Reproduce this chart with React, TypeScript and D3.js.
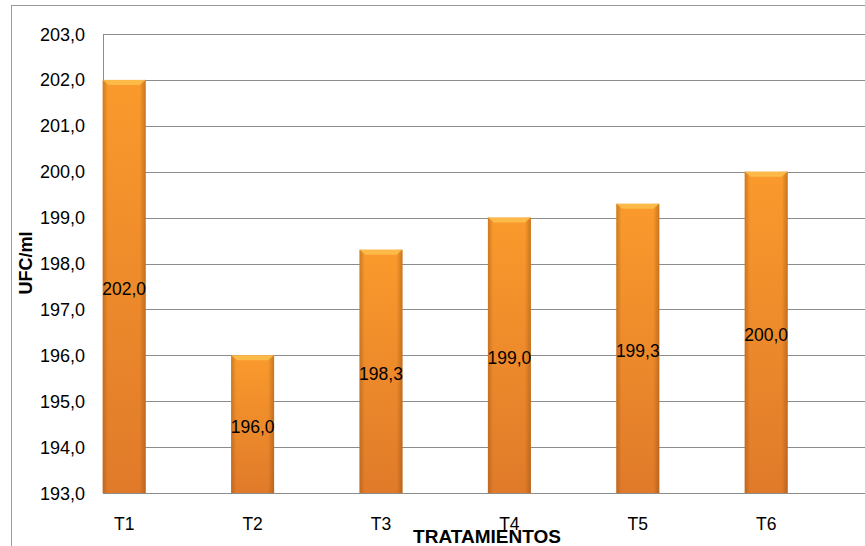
import React, { useRef, useEffect } from "react";
import * as d3 from "d3";

// Data
const categories = ["T1", "T2", "T3", "T4", "T5", "T6"];
const values = [202.0, 196.0, 198.3, 199.0, 199.3, 200.0];
const yTicks = [193, 194, 195, 196, 197, 198, 199, 200, 201, 202, 203];

const App = () => {
  const chartRef = useRef<SVGSVGElement | null>(null);

  useEffect(() => {
    const width = 865;
    const height = 546;
    const plot = { left: 103, top: 34, bottom: 493 };
    const font = "Liberation Sans, Arial, sans-serif";

    const svg = d3.select(chartRef.current).attr("width", width).attr("height", height);
    svg.selectAll("*").remove();

    const locale = d3.formatLocale({ decimal: ",", thousands: ".", grouping: [3], currency: ["", ""] });
    const fmt = locale.format(".1f");

    const xScale = d3.scaleBand().domain(categories).range([60, 830.4]).padding(0);
    const barW = 43;
    const barX = (i: number) => (xScale(categories[i]) as number) + xScale.bandwidth() / 2 - barW / 2;

    const yScale = d3.scaleLinear().domain([193, 203]).range([plot.bottom, plot.top]);

    const defs = svg.append("defs");
    const vg = defs.append("linearGradient").attr("id", "barV").attr("x1", 0).attr("y1", 0).attr("x2", 0).attr("y2", 1);
    vg.append("stop").attr("offset", "0%").attr("stop-color", "#fa9a2c");
    vg.append("stop").attr("offset", "100%").attr("stop-color", "#e07a2a");
    const hg = defs.append("linearGradient").attr("id", "barH").attr("x1", 0).attr("y1", 0).attr("x2", 1).attr("y2", 0);
    hg.append("stop").attr("offset", "0%").attr("stop-color", "#8a4a10").attr("stop-opacity", 0.4);
    hg.append("stop").attr("offset", "12%").attr("stop-color", "#8a4a10").attr("stop-opacity", 0);
    hg.append("stop").attr("offset", "86%").attr("stop-color", "#8a4a10").attr("stop-opacity", 0);
    hg.append("stop").attr("offset", "100%").attr("stop-color", "#8a4a10").attr("stop-opacity", 0.45);

    // outer chart border
    svg.append("rect").attr("x", 11.5).attr("y", 5.5).attr("width", 900).attr("height", 600)
      .attr("fill", "white").attr("stroke", "#9a9a9a").attr("stroke-width", 1);

    // gridlines
    svg.append("g").selectAll("line").data(yTicks).join("line")
      .attr("x1", plot.left).attr("x2", width)
      .attr("y1", (d) => Math.round(yScale(d)) + 0.5).attr("y2", (d) => Math.round(yScale(d)) + 0.5)
      .attr("stroke", "#8c8c8c").attr("stroke-width", 1);

    // y axis line
    svg.append("line").attr("x1", plot.left + 0.5).attr("x2", plot.left + 0.5)
      .attr("y1", plot.top).attr("y2", plot.bottom).attr("stroke", "#8c8c8c");

    // y tick labels
    svg.append("g").selectAll("text").data(yTicks).join("text")
      .attr("x", 85).attr("y", (d) => yScale(d) + 6.5)
      .attr("text-anchor", "end")
      .style("font-family", font).style("font-size", "18px")
      .text((d) => fmt(d));

    // bars
    const bars = svg.append("g").selectAll("g").data(values).join("g");
    bars.append("rect")
      .attr("x", (d, i) => barX(i))
      .attr("y", (d) => yScale(d))
      .attr("width", barW).attr("height", (d) => plot.bottom - yScale(d))
      .attr("fill", "url(#barV)");
    bars.append("rect")
      .attr("x", (d, i) => barX(i))
      .attr("y", (d) => yScale(d))
      .attr("width", barW).attr("height", (d) => plot.bottom - yScale(d))
      .attr("fill", "url(#barH)");
    // top bevel
    bars.append("path")
      .attr("d", (d, i) => {
        const x0 = barX(i);
        const y0 = yScale(d);
        return `M${x0},${y0}L${x0 + barW},${y0}L${x0 + barW - 6},${y0 + 5}L${x0 + 6},${y0 + 5}Z`;
      })
      .attr("fill", "#fdbf4f").attr("opacity", 0.85);

    // value labels centred in bars
    svg.append("g").selectAll("text").data(values).join("text")
      .attr("x", (d, i) => (xScale(categories[i]) as number) + xScale.bandwidth() / 2)
      .attr("y", (d) => (yScale(d) + plot.bottom) / 2 + 9)
      .attr("text-anchor", "middle")
      .style("font-family", font).style("font-size", "17.5px")
      .text((d) => fmt(d));

    // x axis line
    svg.append("line").attr("x1", plot.left).attr("x2", width)
      .attr("y1", plot.bottom + 0.5).attr("y2", plot.bottom + 0.5).attr("stroke", "#8c8c8c");

    // category labels
    svg.append("g").selectAll("text").data(categories).join("text")
      .attr("x", (d) => (xScale(d) as number) + xScale.bandwidth() / 2)
      .attr("y", 530)
      .attr("text-anchor", "middle")
      .style("font-family", font).style("font-size", "17.5px")
      .text((d) => d);

    // axis titles
    svg.append("text").attr("x", 487).attr("y", 543).attr("text-anchor", "middle")
      .style("font-family", font).style("font-size", "19px").style("font-weight", "bold")
      .text("TRATAMIENTOS");
    svg.append("text").attr("transform", "translate(32,263) rotate(-90)").attr("text-anchor", "middle")
      .style("font-family", font).style("font-size", "18px").style("font-weight", "bold")
      .text("UFC/ml");
  }, []);

  return (
    <div style={{ position: "fixed", left: 0, top: 0 }}>
      <svg ref={chartRef} style={{ display: "block" }}></svg>
    </div>
  );
};

export default App;
